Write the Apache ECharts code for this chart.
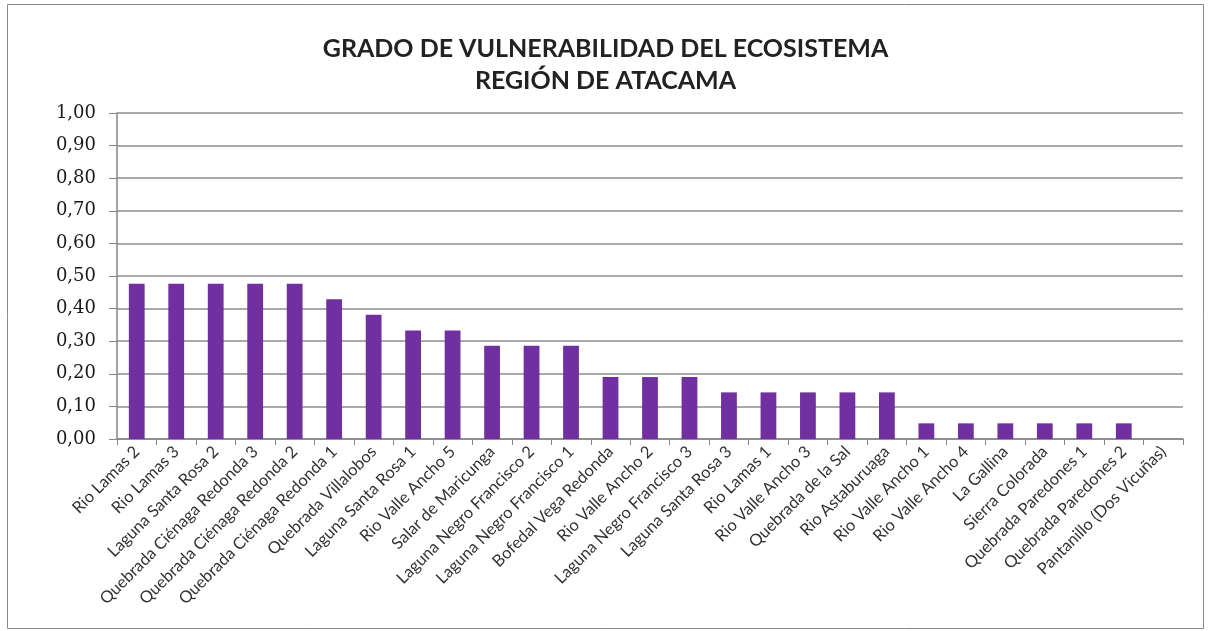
<!DOCTYPE html>
<html>
<head>
<meta charset="utf-8">
<script src="https://cdn.jsdelivr.net/npm/echarts@6/dist/echarts.min.js"></script>
<style>
html,body{margin:0;padding:0;background:#fff;}
#chart{width:1211px;height:631px;}
</style>
</head>
<body>
<div id="chart"></div>
<script>
const titleLines = ['GRADO DE VULNERABILIDAD DEL ECOSISTEMA', 'REGIÓN DE ATACAMA'];
const categories = [
  'Rio Lamas 2', 'Rio Lamas 3', 'Laguna Santa Rosa 2', 'Quebrada Ciénaga Redonda 3',
  'Quebrada Ciénaga Redonda 2', 'Quebrada Ciénaga Redonda 1', 'Quebrada Villalobos',
  'Laguna Santa Rosa 1', 'Rio Valle Ancho 5', 'Salar de Maricunga', 'Laguna Negro Francisco 2',
  'Laguna Negro Francisco 1', 'Bofedal Vega Redonda', 'Rio Valle Ancho 2',
  'Laguna Negro Francisco 3', 'Laguna Santa Rosa 3', 'Rio Lamas 1', 'Rio Valle Ancho 3',
  'Quebrada de la Sal', 'Rio Astaburuaga', 'Rio Valle Ancho 1', 'Rio Valle Ancho 4',
  'La Gallina', 'Sierra Colorada', 'Quebrada Paredones 1', 'Quebrada Paredones 2',
  'Pantanillo (Dos Vicuñas)'
];
const vulnerability = [
  0.476, 0.476, 0.476, 0.476, 0.476, 0.429, 0.381, 0.333, 0.333,
  0.286, 0.286, 0.286, 0.190, 0.190, 0.190, 0.143, 0.143, 0.143,
  0.143, 0.143, 0.048, 0.048, 0.048, 0.048, 0.048, 0.048, 0
];
const yMin = 0, yMax = 1, yStep = 0.1;

const chart = echarts.init(document.getElementById('chart'), null, {renderer: 'canvas'});
chart.setOption({
  animation: false,
  backgroundColor: '#ffffff',
  title: {
    text: titleLines.join('\n'),
    left: 'center',
    top: 28,
    textStyle: {
      fontFamily: 'Lato', fontSize: 25, fontWeight: 'bold', color: '#222222', lineHeight: 32
    }
  },
  graphic: [{
    type: 'rect', shape: {x: 7.5, y: 4.5, width: 1196, height: 624},
    style: {fill: 'none', stroke: '#8a8a8a', lineWidth: 1}, silent: true
  }],
  grid: {left: 117, right: 28, top: 113, bottom: 192, containLabel: false},
  xAxis: {
    type: 'category',
    data: categories,
    axisLine: {lineStyle: {color: '#868686', width: 1.5}},
    axisTick: {show: true, length: 6, lineStyle: {color: '#868686'}},
    axisLabel: {
      interval: 0, rotate: 45, margin: 10,
      fontFamily: 'Lato', fontSize: 16.5, color: '#333333'
    }
  },
  yAxis: {
    type: 'value',
    min: yMin, max: yMax, interval: yStep,
    axisLine: {show: true, lineStyle: {color: '#868686', width: 1.5}},
    axisTick: {show: true, inside: false, length: 8, lineStyle: {color: '#868686'}},
    splitLine: {lineStyle: {color: '#8c8c8c', width: 1.5}},
    axisLabel: {
      margin: 21,
      fontFamily: 'DejaVu Serif', fontSize: 18, color: '#1a1a1a',
      formatter: v => v.toFixed(2).replace('.', ',')
    }
  },
  series: [{
    type: 'bar',
    data: vulnerability,
    barCategoryGap: '60%',
    itemStyle: {color: '#7030A0'}
  }]
});
</script>
</body>
</html>
